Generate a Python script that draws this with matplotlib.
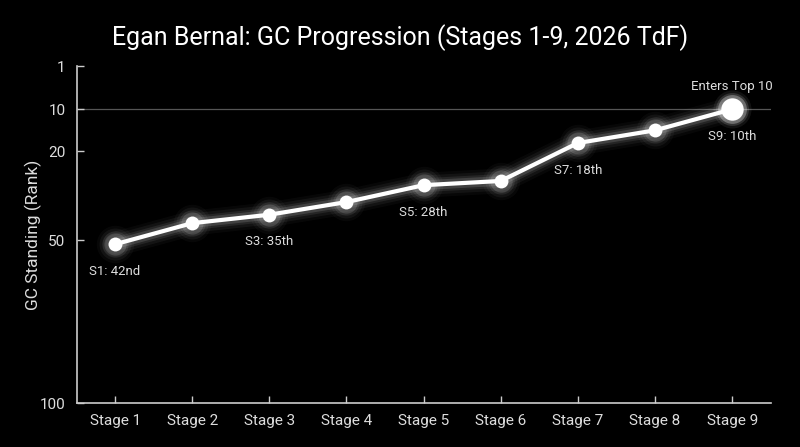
import numpy as np
import matplotlib.pyplot as plt

plt.rcParams['font.family'] = ['Roboto', 'DejaVu Sans']

stages = ['Stage 1', 'Stage 2', 'Stage 3', 'Stage 4', 'Stage 5',
          'Stage 6', 'Stage 7', 'Stage 8', 'Stage 9']
gc_rank = [42, 37, 35, 32, 28, 27, 18, 15, 10]
labels = {0: 'S1: 42nd', 2: 'S3: 35th', 4: 'S5: 28th', 6: 'S7: 18th', 8: 'S9: 10th'}
callout = 'Enters Top 10'
ytick_labels = ['1', '10', '20', '50', '100']
ytick_pos = [-0.25, 10, 20, 41, 79.7]     # where the reference draws its tick labels

x = np.arange(len(stages))

fig = plt.figure(figsize=(8, 4.47), dpi=100, facecolor='black')
ax = fig.add_axes([76.5/800, 1 - 403.3/447, 694.2/800, 337.3/447])
ax.set_facecolor('black')

ax.axhline(10, color='#555555', lw=0.9, zorder=1)

# glow under the line
for w, a in [(18, 0.03), (14, 0.05), (10, 0.08), (7, 0.13)]:
    ax.plot(x, gc_rank, color='white', lw=w, alpha=a, solid_capstyle='round', zorder=2)
    ax.scatter(x[:-1], gc_rank[:-1], s=(w + 9) ** 2, color='white', alpha=a, lw=0, zorder=2)
ax.plot(x, gc_rank, color='white', lw=3, zorder=3)
ax.scatter(x[:-1], gc_rank[:-1], s=100, color='white', lw=0, zorder=4)

# bigger end marker
for s, a in [(750, 0.07), (560, 0.14), (430, 0.3)]:
    ax.scatter(x[-1], gc_rank[-1], s=s, color='white', alpha=a, lw=0, zorder=4)
ax.scatter(x[-1], gc_rank[-1], s=260, color='white', lw=0, zorder=5)

for i, txt in labels.items():
    ax.annotate(txt, (x[i], gc_rank[i]), xytext=(0, -19.5), textcoords='offset points',
                ha='center', va='center', color='#dddddd', fontsize=9.5)
ax.annotate(callout, (x[-1], gc_rank[-1]), xytext=(0, 16.5), textcoords='offset points',
            ha='center', va='center', color='#dddddd', fontsize=9.5)

ax.set_xlim(-0.5, 8.5)
ax.set_ylim(79.7, -0.25)
ax.set_xticks(x, stages)
ax.set_yticks(ytick_pos, ytick_labels)
ax.tick_params(direction='in', length=5, width=1, colors='#cccccc', labelcolor='#dddddd',
               labelsize=11, pad=8)
for side in ['top', 'right']:
    ax.spines[side].set_visible(False)
for side in ['left', 'bottom']:
    ax.spines[side].set_color('#cccccc')
    ax.spines[side].set_linewidth(1.2)

ax.set_ylabel('GC Standing (Rank)', color='#dddddd', fontsize=12.5, labelpad=-2)
fig.text(0.5, 1 - 38/447, 'Egan Bernal: GC Progression (Stages 1-9, 2026 TdF)',
         ha='center', va='center', color='white', fontsize=18)

fig.savefig('out.png', dpi=100, facecolor='black')
